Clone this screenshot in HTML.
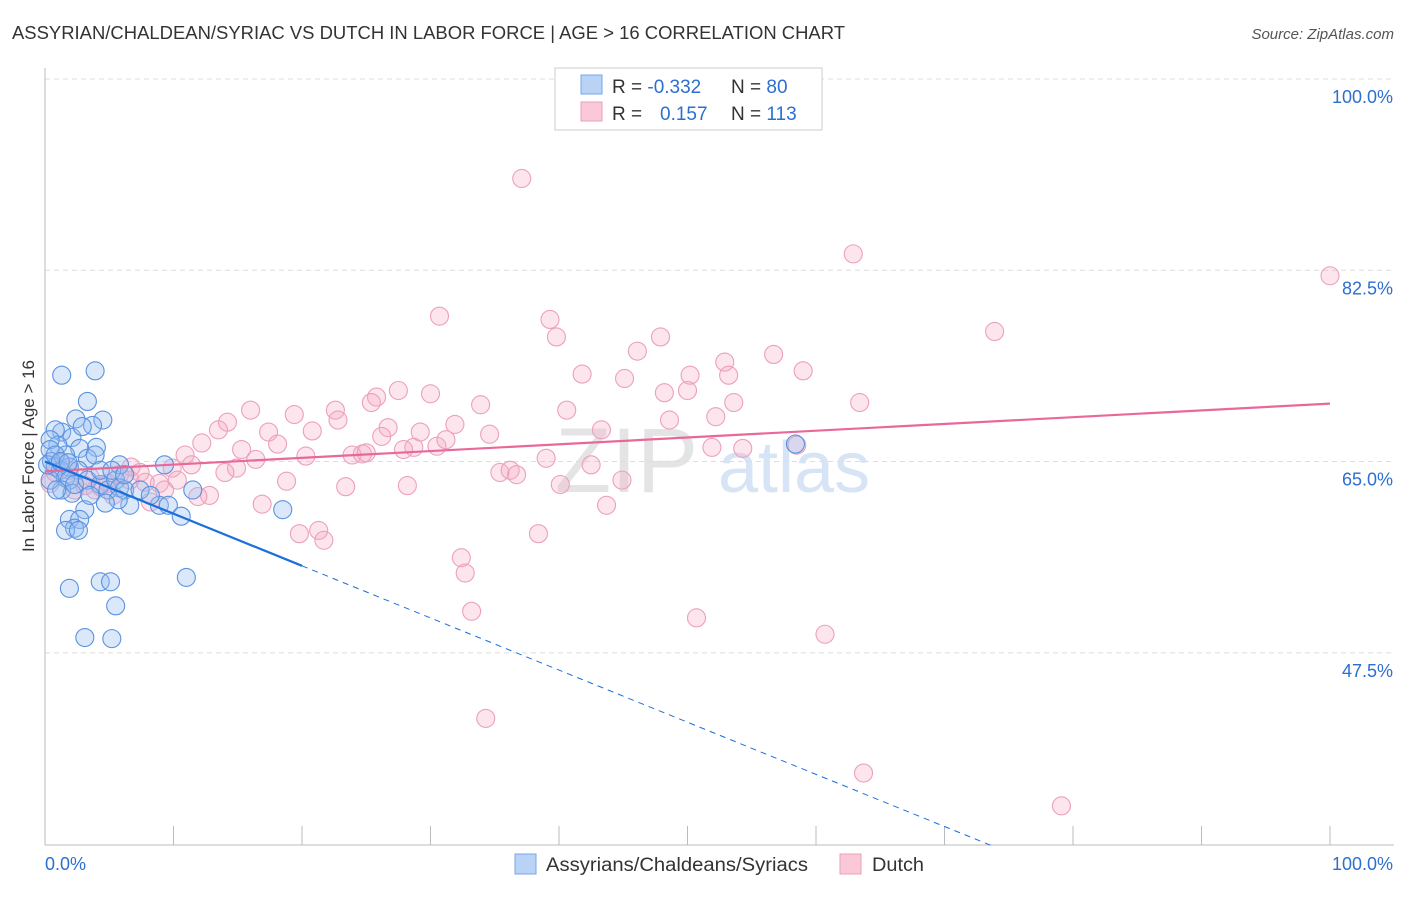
<!DOCTYPE html>
<html><head><meta charset="utf-8">
<style>
body{margin:0;background:#fff;font-family:"Liberation Sans",sans-serif;}
svg text{font-family:"Liberation Sans",sans-serif;}
</style></head>
<body>
<svg id="chart" width="1406" height="892" xmlns="http://www.w3.org/2000/svg">
<text x="12" y="39" font-size="18" fill="#333" textLength="833" lengthAdjust="spacingAndGlyphs">ASSYRIAN/CHALDEAN/SYRIAC VS DUTCH IN LABOR FORCE | AGE &gt; 16 CORRELATION CHART</text>
<text x="1394" y="39" font-size="15" fill="#555" text-anchor="end" font-style="italic">Source: ZipAtlas.com</text>
<text x="555" y="492" font-size="92" fill="#e4e4e4" font-family="Liberation Serif">ZIP</text>
<text x="718" y="492" font-size="72" fill="#d6e4f5">atlas</text>
<g id="grid"></g>
<g id="axes"></g>
<g id="pts"></g>
<g id="trends"></g>
<text transform="translate(34,456) rotate(-90)" font-size="17" fill="#333" text-anchor="middle">In Labor Force | Age &gt; 16</text>
<g>
<rect x="555" y="68" width="267" height="62" fill="#fff" stroke="#ccc"/>
<rect x="581" y="75" width="21" height="19" fill="#b8d3f5" stroke="#7aa6e6"/>
<rect x="581" y="102" width="21" height="19" fill="#fac8d7" stroke="#ee9fba"/>
<text x="612" y="93" font-size="19" fill="#333">R = <tspan fill="#2c6fd0">-0.332</tspan></text>
<text x="731" y="93" font-size="19" fill="#333">N = <tspan fill="#2c6fd0"> 80</tspan></text>
<text x="612" y="120" font-size="19" fill="#333">R = <tspan fill="#2c6fd0" x="660">0.157</tspan></text>
<text x="731" y="120" font-size="19" fill="#333">N = <tspan fill="#2c6fd0">113</tspan></text>
</g>
<g>
<rect x="515" y="854" width="21" height="20" fill="#b8d3f5" stroke="#7aa6e6"/>
<text x="546" y="871" font-size="19" fill="#333" textLength="262" lengthAdjust="spacingAndGlyphs">Assyrians/Chaldeans/Syriacs</text>
<rect x="840" y="854" width="21" height="20" fill="#fac8d7" stroke="#ee9fba"/>
<text x="872" y="871" font-size="19" fill="#333" textLength="52" lengthAdjust="spacingAndGlyphs">Dutch</text>
</g>
</svg>
<script>
const yTicks=[100,82.5,65,47.5];
const yTickLabels=["100.0%","82.5%","65.0%","47.5%"];
const xEndLabels=["0.0%","100.0%"];
const blueX=[1.3,3.9,3.3,2.4,4.5,3.7,1.3,2.1,2.9,0.8,1.0,4.0,2.7,3.3,1.6,0.4,0.4,0.5,0.8,1.2,1.9,2.6,1.6,1.9,1.3,2.1,2.3,3.3,4.3,4.9,5.5,5.8,6.2,6.6,5.7,4.7,5.8,8.9,9.6,9.3,11.5,10.6,18.5,3.9,3.1,1.9,2.7,2.3,1.6,2.6,1.9,4.3,5.1,5.5,11.0,3.1,5.2,58.4,0.4,0.2,0.8,1.2,1.8,4.3,7.4,8.2,0.9,3.5,5.2,6.2];
const blueY=[72.9,73.3,70.5,68.9,68.8,68.3,67.7,67.2,68.2,67.9,66.5,66.3,66.2,65.3,65.6,67.0,66.1,65.0,64.5,64.2,64.5,64.2,63.5,63.3,62.4,62.1,62.9,63.3,62.9,62.4,63.3,62.6,62.4,61.0,61.5,61.2,64.7,61.0,61.0,64.7,62.4,60.0,60.6,65.6,60.6,59.7,59.7,58.9,58.7,58.7,53.4,54.0,54.0,51.8,54.4,48.9,48.8,66.6,63.3,64.7,65.6,65.0,64.9,64.2,62.4,61.9,62.4,61.9,64.2,63.8];
const pinkX=[37.1,62.9,100.0,30.7,39.3,39.8,47.9,46.1,52.9,56.7,73.9,59.0,41.8,45.1,50.2,50.0,53.2,48.2,53.6,63.4,33.9,27.5,30.0,25.8,25.4,16.0,22.6,19.4,14.2,22.8,52.2,48.6,40.6,43.3,31.9,26.7,26.2,29.2,30.5,31.2,34.6,13.5,17.4,18.1,20.8,12.2,10.9,15.3,16.4,20.3,23.9,24.7,25.0,28.7,27.9,39.0,42.5,51.9,54.3,58.5,6.7,9.9,11.4,14.9,14.0,10.3,8.9,7.8,18.8,28.2,23.4,35.4,36.2,36.7,40.1,44.9,12.8,11.9,16.9,43.7,19.8,21.3,21.7,38.4,32.4,32.7,33.2,50.7,60.7,34.3,63.7,79.1,4.3,4.9,5.8,1.9,1.2,2.3,3.5,0.4,3.1,5.3,8.2,9.3,0.8,3.9,6.6,7.4];
const pinkY=[90.9,84.0,82.0,78.3,78.0,76.4,76.4,75.1,74.1,74.8,76.9,73.3,73.0,72.6,72.9,71.5,72.9,71.3,70.4,70.4,70.2,71.5,71.2,70.9,70.4,69.7,69.7,69.3,68.6,68.8,69.1,68.8,69.7,67.9,68.4,68.1,67.3,67.7,66.4,67.0,67.5,67.9,67.7,66.6,67.8,66.7,65.6,66.1,65.2,65.5,65.6,65.7,65.8,66.3,66.1,65.3,64.7,66.3,66.2,66.5,64.5,64.4,64.7,64.4,64.0,63.3,63.0,63.1,63.2,62.8,62.7,64.0,64.2,63.8,62.9,63.3,61.9,61.8,61.1,61.0,58.4,58.7,57.8,58.4,56.2,54.8,51.3,50.7,49.2,41.5,36.5,33.5,62.7,63.0,63.8,64.2,64.9,62.4,63.6,63.0,62.8,61.9,61.3,62.4,64.0,62.4,63.3,64.0];
const blueTrend=[65.0,-0.477];
const pinkTrend=[64.1,0.062];
const NS="http://www.w3.org/2000/svg";
const X=v=>45+v*12.85;
const Y=v=>79+(100-v)*10.93;
function mk(tag,attrs,parent){const e=document.createElementNS(NS,tag);for(const k in attrs)e.setAttribute(k,attrs[k]);parent.appendChild(e);return e;}
const grid=document.getElementById('grid'),axes=document.getElementById('axes'),pts=document.getElementById('pts'),tr=document.getElementById('trends');
yTicks.forEach((t,i)=>{
 const l=mk('line',{x1:45,x2:1394,y1:Y(t),y2:Y(t),stroke:'#ddd','stroke-dasharray':'5,4'},grid);
 
 
 const tx=mk('text',{x:1393,y:Y(t)+24,'font-size':18,fill:'#2c6fd0','text-anchor':'end'},grid);
 tx.textContent=yTickLabels[i];
 
 
});
const ya=mk('line',{x1:45,x2:45,y1:68,y2:845,stroke:'#bbb'},axes);


const xa=mk('line',{x1:45,x2:1394,y1:845,y2:845,stroke:'#bbb'},axes);


for(let i=0;i<=10;i++){const t=mk('line',{x1:X(i*10),x2:X(i*10),y1:826,y2:845,stroke:'#bbb'},axes);
 
 }
[[0,'start'],[100,'end']].forEach((p,i)=>{const t=mk('text',{x:i?1393:45,y:870,'font-size':18,fill:'#2c6fd0','text-anchor':p[1]},axes);t.textContent=xEndLabels[i];
 
 });
pinkX.forEach((x,i)=>{const c=mk('circle',{cx:X(x),cy:Y(pinkY[i]),r:9,fill:'rgba(245,170,195,0.3)',stroke:'#eca0bb','stroke-width':1.1},pts);
 
 });
blueX.forEach((x,i)=>{const c=mk('circle',{cx:X(x),cy:Y(blueY[i]),r:9,fill:'rgba(150,190,240,0.35)',stroke:'#5b92e0','stroke-width':1.1},pts);
 
 });
const pl=mk('line',{x1:X(0),y1:Y(pinkTrend[0]),x2:X(100),y2:Y(pinkTrend[0]+100*pinkTrend[1]),stroke:'#e8689a','stroke-width':2.2},tr);


const bf=v=>blueTrend[0]+v*blueTrend[1];
const bl=mk('line',{x1:X(0),y1:Y(bf(0)),x2:X(20),y2:Y(bf(20)),stroke:'#1a6fdc','stroke-width':2.2},tr);


const xe=(blueTrend[0]-29.9)/(-blueTrend[1]);
const bd=mk('line',{x1:X(20),y1:Y(bf(20)),x2:X(xe),y2:Y(bf(xe)),stroke:'#1a6fdc','stroke-width':1,'stroke-dasharray':'6,5'},tr);


</script>
</body></html>
